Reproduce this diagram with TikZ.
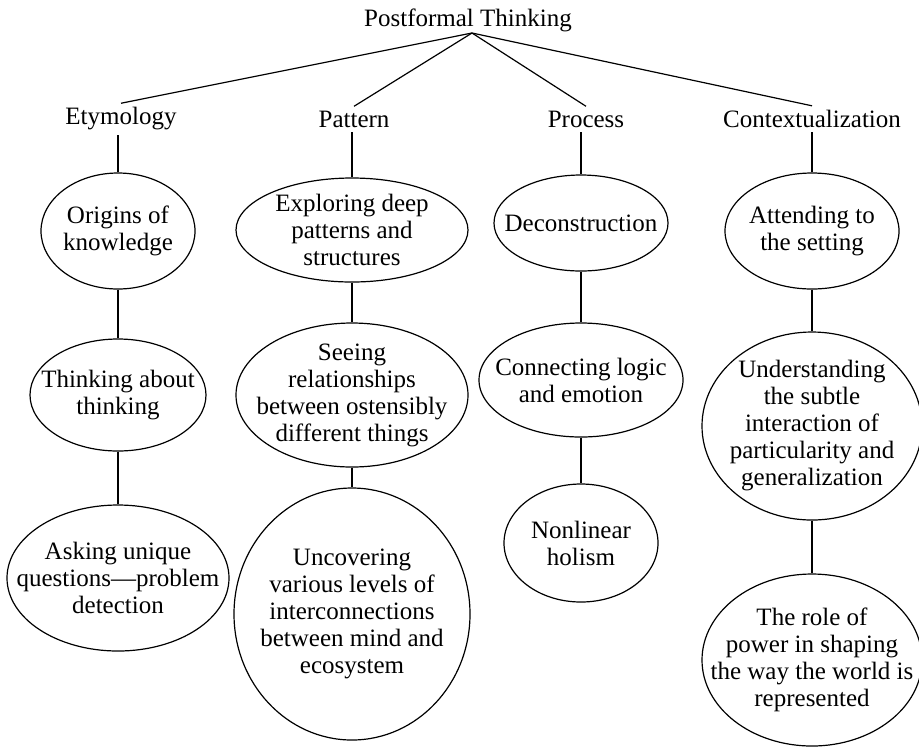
\documentclass[tikz,border=0pt]{standalone}
\usepackage{fontspec}
\setmainfont{Liberation Serif}
\usetikzlibrary{shapes.geometric}

\tikzset{
    bubble/.style 2 args={draw, ellipse, line width=0.6pt, inner sep=0pt, minimum width=#1, minimum height=#2},
    words/.style={align=center, inner sep=0pt},
    heading/.style={inner sep=2pt},
    link/.style={line width=0.6pt},
}

\begin{document}
\begin{tikzpicture}[x=0.5pt, y=-0.5pt, font=\fontsize{12.5}{13.5}\selectfont]
        \useasboundingbox (0,0) rectangle (919,746);

        \node[heading] (root) at (468,20) {Postformal Thinking};
        \coordinate (apex) at (472,33);

        \node[heading] (etym) at (121,119) {Etymology};
        \node[heading] (patt) at (354,119) {Pattern};
        \node[heading] (proc) at (586,119) {Process};
        \node[heading] (cont) at (812,119) {Contextualization};

        \node[bubble={77pt}{58pt}] (etym1) at (118,231) {};
        \node[words] (etym1-t) at (etym1) {Origins of\\knowledge};
        \node[bubble={88pt}{56pt}] (etym2) at (118,395) {};
        \node[words] (etym2-t) at (etym2) {Thinking about\\thinking};
        \node[bubble={111pt}{73pt}] (etym3) at (118,578) {};
        \node[words] (etym3-t) at (etym3) {Asking unique\\questions—problem\\detection};

        \node[bubble={116pt}{52pt}] (patt1) at (352,230) {};
        \node[words] (patt1-t) at (patt1) {Exploring deep\\patterns and\\structures};
        \node[bubble={116pt}{72pt}] (patt2) at (352,395) {};
        \node[words] (patt2-t) at (patt2) {Seeing\\relationships\\between ostensibly\\different things};
        \node[bubble={118pt}{126pt}] (patt3) at (352,614) {};
        \node[words] (patt3-t) at (patt3) {Uncovering\\various levels of\\interconnections\\between mind and\\ecosystem};

        \node[bubble={87pt}{48pt}] (proc1) at (581,223) {};
        \node[words] (proc1-t) at (proc1) {Deconstruction};
        \node[bubble={102pt}{57pt}] (proc2) at (581,380) {};
        \node[words] (proc2-t) at (proc2) {Connecting logic\\and emotion};
        \node[bubble={77pt}{59pt}] (proc3) at (581,543) {};
        \node[words] (proc3-t) at (proc3) {Nonlinear\\holism};

        \node[bubble={87pt}{58pt}] (cont1) at (812,231) {};
        \node[words] (cont1-t) at (cont1) {Attending to\\the setting};
        \node[bubble={110pt}{94pt}] (cont2) at (812,426) {};
        \node[words] (cont2-t) at (cont2) {Understanding\\the subtle\\interaction of\\particularity and\\generalization};
        \node[bubble={110pt}{86pt}] (cont3) at (812,660) {};
        \node[words] (cont3-t) at (cont3) {The role of\\power in shaping\\the way the world is\\represented};

        \draw[link] (apex) -- (etym.north);
        \draw[link] (apex) -- (patt.north);
        \draw[link] (apex) -- (proc.north);
        \draw[link] (apex) -- (cont.north);

        \draw[link] (etym1.north) -- (etym1.north |- etym.south);
        \draw[link] (etym1.south) -- (etym2.north);
        \draw[link] (etym2.south) -- (etym3.north);

        \draw[link] (patt1.north) -- (patt1.north |- patt.south);
        \draw[link] (patt1.south) -- (patt2.north);
        \draw[link] (patt2.south) -- (patt3.north);

        \draw[link] (proc1.north) -- (proc1.north |- proc.south);
        \draw[link] (proc1.south) -- (proc2.north);
        \draw[link] (proc2.south) -- (proc3.north);

        \draw[link] (cont1.north) -- (cont1.north |- cont.south);
        \draw[link] (cont1.south) -- (cont2.north);
        \draw[link] (cont2.south) -- (cont3.north);
    \end{tikzpicture}
\end{document}
